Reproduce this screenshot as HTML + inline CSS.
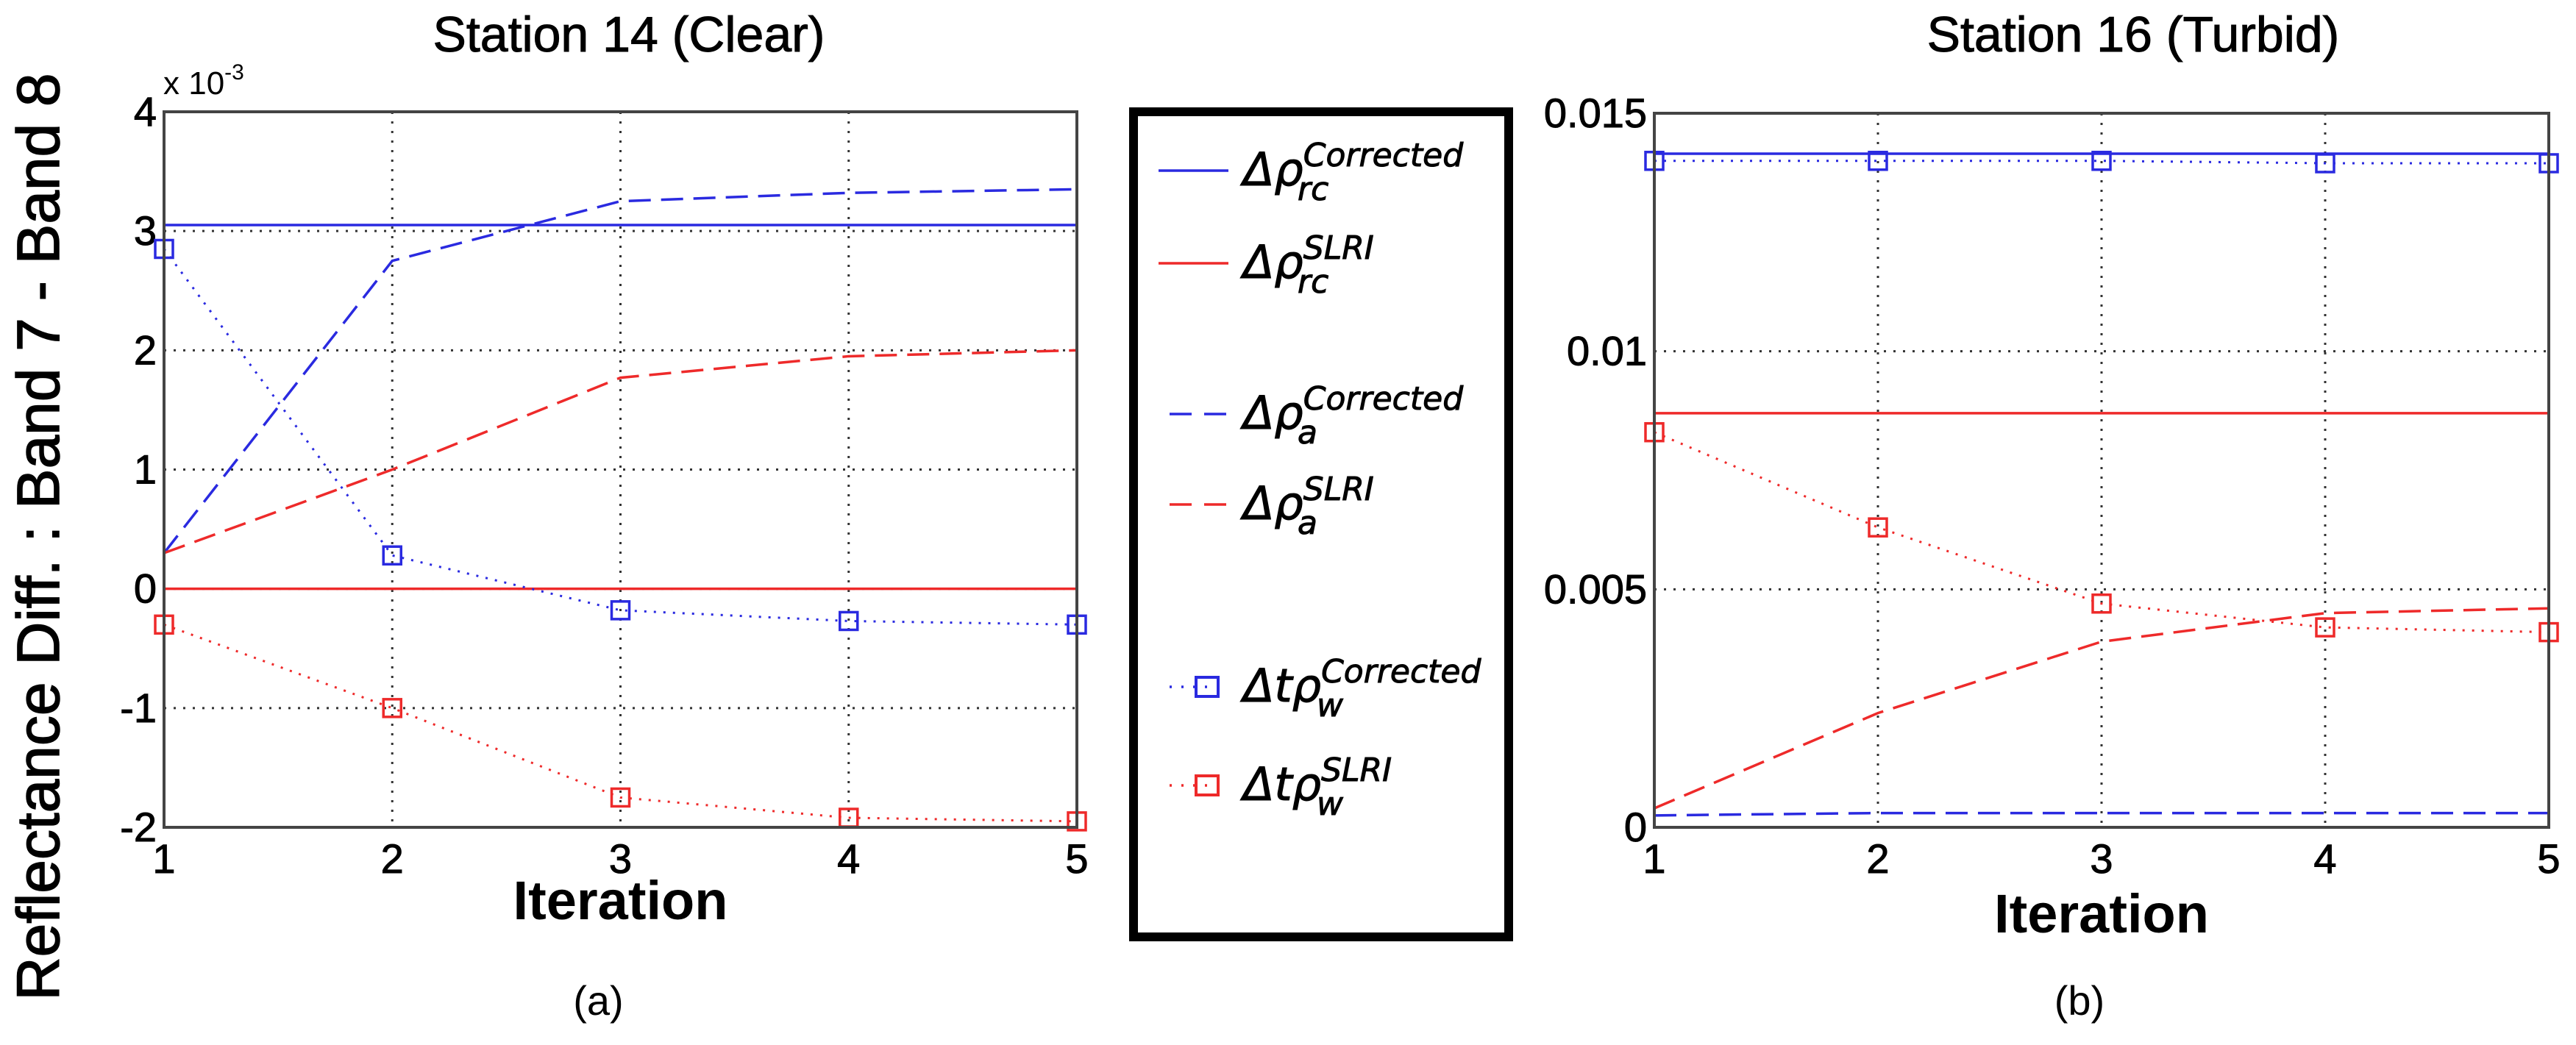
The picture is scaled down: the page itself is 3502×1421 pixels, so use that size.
<!DOCTYPE html>
<html><head><meta charset="utf-8"><style>
html,body{margin:0;padding:0;background:#fff;}
svg{display:block;}
text{font-family:"Liberation Sans",sans-serif;}
.lg{font-family:"DejaVu Sans","Liberation Serif",serif;font-style:italic;}
</style></head><body>
<svg id="fig" width="3502" height="1421" viewBox="0 0 3502 1421" xmlns="http://www.w3.org/2000/svg">
<g id="left"></g>
<g id="right"></g>
<g id="legend"></g>
</svg>
<script>
const iterations = [1, 2, 3, 4, 5];
// Station 14 (values in units of 1e-3)
const s14_rcCorrected = [3.05, 3.05, 3.05, 3.05, 3.05];
const s14_rcSLRI = [0, 0, 0, 0, 0];
const s14_aCorrected = [0.3, 2.75, 3.25, 3.32, 3.35];
const s14_aSLRI = [0.3, 1.0, 1.77, 1.95, 2.0];
const s14_twCorrected = [2.85, 0.28, -0.18, -0.27, -0.3];
const s14_twSLRI = [-0.3, -1.0, -1.75, -1.92, -1.95];
const s14_yTicks = [-2, -1, 0, 1, 2, 3, 4];
const s14_yTickLabels = ["-2", "-1", "0", "1", "2", "3", "4"];
// Station 16
const s16_rcCorrected = [0.01415, 0.01415, 0.01415, 0.01415, 0.01415];
const s16_rcSLRI = [0.0087, 0.0087, 0.0087, 0.0087, 0.0087];
const s16_aCorrected = [0.00025, 0.0003, 0.0003, 0.0003, 0.0003];
const s16_aSLRI = [0.0004, 0.0024, 0.0039, 0.0045, 0.0046];
const s16_twCorrected = [0.0140, 0.0140, 0.0140, 0.01395, 0.01395];
const s16_twSLRI = [0.0083, 0.0063, 0.0047, 0.0042, 0.0041];
const s16_yTicks = [0, 0.005, 0.01, 0.015];
const s16_yTickLabels = ["0", "0.005", "0.01", "0.015"];
const xTickLabels = ["1", "2", "3", "4", "5"];

const NS = "http://www.w3.org/2000/svg";
const BLUE = "#2a2ae0", RED = "#ee2a2a";
function mk(tag, attrs, parent) {
  const e = document.createElementNS(NS, tag);
  for (const k in attrs) e.setAttribute(k, attrs[k]);
  parent.appendChild(e);
  return e;
}

function drawChart(g, box, ymin, ymax, yTicks, yLabels, series, title, sub, titleX, xtY) {
  const sx = v => box.l + (v - 1) / 4 * (box.r - box.l);
  const sy = v => box.b - (v - ymin) / (ymax - ymin) * (box.b - box.t);
  const bg = mk("rect", {x: box.l, y: box.t, width: box.r - box.l, height: box.b - box.t, fill: "#fff"}, g);
  
  
  iterations.forEach((it, i) => {
    if (i > 0 && i < 4) {
      const l = mk("line", {x1: sx(it), x2: sx(it), y1: box.t, y2: box.b, stroke: "#333", "stroke-width": 3, "stroke-dasharray": "3 10"}, g);
      
      
    }
    const t = mk("text", {x: sx(it), y: box.b + 62, "font-size": 56, "text-anchor": "middle", stroke: "#000", "stroke-width": 1}, g);
    t.textContent = xTickLabels[i];
    
    
  });
  yTicks.forEach((v, i) => {
    if (v > ymin && v < ymax) {
      const l = mk("line", {x1: box.l, x2: box.r, y1: sy(v), y2: sy(v), stroke: "#333", "stroke-width": 3, "stroke-dasharray": "3 10"}, g);
      
      
    }
    const t = mk("text", {x: box.l - 10, y: sy(v) + 19, "font-size": 56, "text-anchor": "end", stroke: "#000", "stroke-width": 1}, g);
    t.textContent = yLabels[i];
    
    
  });
  series.forEach(s => {
    const pts = s.data.map((v, i) => sx(iterations[i]) + "," + sy(v)).join(" ");
    const attrs = {points: pts, fill: "none", stroke: s.color, "stroke-width": s.dash === "dot" ? 3 : 3.5};
    if (s.dash === "dash") attrs["stroke-dasharray"] = "30 14";
    if (s.dash === "dot") attrs["stroke-dasharray"] = "3 10";
    const p = mk("polyline", attrs, g);
    
    
    if (s.marker) {
      s.data.forEach((v, i) => {
        const r = mk("rect", {x: sx(iterations[i]) - 12, y: sy(v) - 12, width: 24, height: 24, fill: "none", stroke: s.color, "stroke-width": 3.5}, g);
        
        
      });
    }
  });
  const frame = mk("rect", {x: box.l, y: box.t, width: box.r - box.l, height: box.b - box.t, fill: "none", stroke: "#444", "stroke-width": 4}, g);
  
  
  const tt = mk("text", {x: titleX, y: 70, "font-size": 68, "text-anchor": "middle", stroke: "#000", "stroke-width": 1}, g);
  tt.textContent = title;
  
  
  const xt = mk("text", {x: (box.l + box.r) / 2, y: xtY, "font-size": 74, "font-weight": "bold", "text-anchor": "middle"}, g);
  xt.textContent = "Iteration";
  
  
  const st = mk("text", {x: (box.l + box.r) / 2 - 30, y: 1380, "font-size": 56, "text-anchor": "middle", "font-family": "Liberation Serif, serif"}, g);
  st.textContent = sub;
  
  
}

const L = document.getElementById("left");
drawChart(L, {l: 223, r: 1464, t: 152, b: 1125}, -2, 4, s14_yTicks, s14_yTickLabels, [
  {name: "rc-corrected-line", data: s14_rcCorrected, color: BLUE, dash: "solid"},
  {name: "rc-slri-line", data: s14_rcSLRI, color: RED, dash: "solid"},
  {name: "a-corrected-line", data: s14_aCorrected, color: BLUE, dash: "dash"},
  {name: "a-slri-line", data: s14_aSLRI, color: RED, dash: "dash"},
  {name: "tw-corrected-line", data: s14_twCorrected, color: BLUE, dash: "dot", marker: true},
  {name: "tw-slri-line", data: s14_twSLRI, color: RED, dash: "dot", marker: true}
], "Station 14 (Clear)", "(a)", 855, 1250);
const ex = mk("text", {x: 222, y: 128, "font-size": 44}, L);
ex.innerHTML = 'x 10<tspan dy="-20" font-size="30">-3</tspan>';


const yt = mk("text", {x: 0, y: 0, "font-size": 82, "text-anchor": "middle", stroke: "#000", "stroke-width": 1.5, transform: "translate(80,730) rotate(-90)"}, L);
yt.textContent = "Reflectance Diff. : Band 7 - Band 8";



const R = document.getElementById("right");
drawChart(R, {l: 2249, r: 3465, t: 154, b: 1125}, 0, 0.015, s16_yTicks, s16_yTickLabels, [
  {name: "rc-corrected-line", data: s16_rcCorrected, color: BLUE, dash: "solid"},
  {name: "rc-slri-line", data: s16_rcSLRI, color: RED, dash: "solid"},
  {name: "a-corrected-line", data: s16_aCorrected, color: BLUE, dash: "dash"},
  {name: "a-slri-line", data: s16_aSLRI, color: RED, dash: "dash"},
  {name: "tw-corrected-line", data: s16_twCorrected, color: BLUE, dash: "dot", marker: true},
  {name: "tw-slri-line", data: s16_twSLRI, color: RED, dash: "dot", marker: true}
], "Station 16 (Turbid)", "(b)", 2900, 1268);

const G = document.getElementById("legend");
const lb = mk("rect", {x: 1541, y: 152, width: 510, height: 1122, fill: "#fff", stroke: "#000", "stroke-width": 12}, G);


const entries = [
  {y: 232, c: BLUE, d: "solid", pre: "Δρ", sup: "Corrected", sub: "rc", m: false},
  {y: 358, c: RED, d: "solid", pre: "Δρ", sup: "SLRI", sub: "rc", m: false},
  {y: 563, c: BLUE, d: "dash", pre: "Δρ", sup: "Corrected", sub: "a", m: false},
  {y: 686, c: RED, d: "dash", pre: "Δρ", sup: "SLRI", sub: "a", m: false},
  {y: 934, c: BLUE, d: "dot", pre: "Δtρ", sup: "Corrected", sub: "w", m: true},
  {y: 1068, c: RED, d: "dot", pre: "Δtρ", sup: "SLRI", sub: "w", m: true}
];
entries.forEach(e => {
  const a = {x1: e.d === "solid" ? 1575 : 1590, x2: 1670, y1: e.y, y2: e.y, stroke: e.c, "stroke-width": 3.5};
  if (e.d === "dash") a["stroke-dasharray"] = "30 17";
  if (e.d === "dot") a["stroke-dasharray"] = "3 13";
  const l = mk("line", a, G);
  
  
  if (e.m) {
    const r = mk("rect", {x: 1626, y: e.y - 13, width: 30, height: 26, fill: "none", stroke: e.c, "stroke-width": 4}, G);
    
    
  }
  const t = mk("text", {x: 1690, y: e.y + 20, "font-size": 62, class: "lg", stroke: "#000", "stroke-width": 1}, G);
  t.innerHTML = e.pre + '<tspan font-size="44" dy="-26">' + e.sup + '</tspan>';
  
  
  const s = mk("text", {x: 1690 + (e.pre.length === 2 ? 74 : 100), y: e.y + 40, "font-size": 44, class: "lg", stroke: "#000", "stroke-width": 1}, G);
  s.textContent = e.sub;
  
  
});
</script>
</body></html>
